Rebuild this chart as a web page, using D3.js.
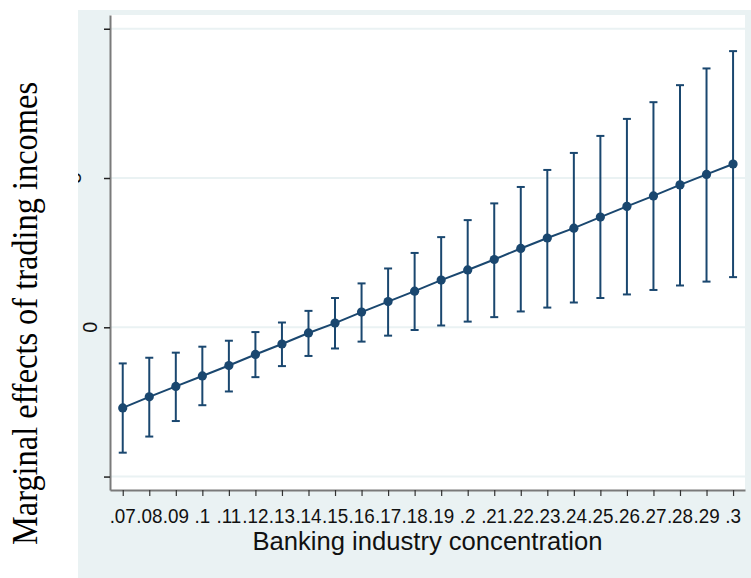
<!DOCTYPE html>
<html><head><meta charset="utf-8">
<script src="https://cdn.jsdelivr.net/npm/d3@7"></script>
<style>body{margin:0;background:#fff}svg{display:block}</style>
</head><body>
<svg id="c" width="751" height="578"></svg>
<script>
// Data
const concentration = [0.07,0.08,0.09,0.10,0.11,0.12,0.13,0.14,0.15,0.16,0.17,0.18,0.19,0.20,0.21,0.22,0.23,0.24,0.25,0.26,0.27,0.28,0.29,0.30];
const xTickLabels = [".07",".08",".09",".1",".11",".12",".13",".14",".15",".16",".17",".18",".19",".2",".21",".22",".23",".24",".25",".26",".27",".28",".29",".3"];
const margin = [-2.70,-2.33,-1.98,-1.63,-1.28,-0.91,-0.56,-0.19,0.14,0.51,0.86,1.21,1.58,1.92,2.27,2.64,2.99,3.32,3.69,4.05,4.40,4.77,5.12,5.47];
const ciLow  = [-4.20,-3.66,-3.14,-2.61,-2.15,-1.67,-1.30,-0.96,-0.71,-0.48,-0.28,-0.09,0.06,0.19,0.34,0.53,0.66,0.83,0.98,1.10,1.25,1.40,1.53,1.68];
const ciHigh = [-1.21,-1.02,-0.85,-0.65,-0.45,-0.16,0.16,0.55,0.98,1.47,1.97,2.49,3.02,3.59,4.15,4.70,5.27,5.84,6.41,6.98,7.54,8.11,8.67,9.25];
const yTicks = [-5,0,5,10];
const yTickLabels = [{v:0,t:"0"},{v:5,t:"5"}];
const titleText = "Average Marginal Effects of trading incomes with 95% CIs";
const xTitle = "Banking industry concentration";
const yTitle = "Marginal effects of trading incomes";

const navy = "#1a476f", bg = "#eaf2f3";
const svg = d3.select("#c");
const L = 110, R = 745, T = 15, B = 490;
const x = d3.scaleLinear().domain([0.0652, 0.3045]).range([L, R]);
const y = d3.scaleLinear().domain([-5.45, 10.46]).range([B, T]);

svg.append("rect").attr("x",78).attr("y",10).attr("width",751-78).attr("height",578-10).attr("fill",bg);
svg.append("rect").attr("x",L).attr("y",T).attr("width",R-L).attr("height",B-T).attr("fill","#fff");

// gridlines
svg.append("g").selectAll("line").data(yTicks).join("line")
  .attr("x1",L).attr("x2",R).attr("y1",d=>y(d)).attr("y2",d=>y(d))
  .attr("stroke",bg).attr("stroke-width",2);

// title (cut off at top, as in the reference)
svg.append("text").attr("x",29).attr("y",-8.5).attr("fill",navy)
  .attr("font-family","Liberation Sans, Arial, sans-serif").attr("font-size",40).text(titleText);

// error bars
const g = svg.append("g");
const idx = d3.range(concentration.length);
g.selectAll("line.v").data(idx).join("line").attr("class","v")
  .attr("x1",i=>x(concentration[i])).attr("x2",i=>x(concentration[i]))
  .attr("y1",i=>y(ciLow[i])).attr("y2",i=>y(ciHigh[i]))
  .attr("stroke",navy).attr("stroke-width",2);
[ciLow, ciHigh].forEach(arr=>{
  g.selectAll(null).data(idx).join("line")
    .attr("x1",i=>x(concentration[i])-4).attr("x2",i=>x(concentration[i])+4)
    .attr("y1",i=>y(arr[i])).attr("y2",i=>y(arr[i]))
    .attr("stroke",navy).attr("stroke-width",2);
});
g.append("path").datum(idx)
  .attr("d", d3.line().x(i=>x(concentration[i])).y(i=>y(margin[i])))
  .attr("fill","none").attr("stroke",navy).attr("stroke-width",2);
g.selectAll("circle").data(idx).join("circle")
  .attr("cx",i=>x(concentration[i])).attr("cy",i=>y(margin[i])).attr("r",4.6).attr("fill",navy);

// axes
const xAxis = svg.append("g").attr("transform",`translate(0,${B})`)
  .call(d3.axisBottom(x).tickValues(concentration).tickFormat(()=>"").tickSize(6).tickSizeOuter(0));
xAxis.select(".domain").attr("stroke","#7a7a7a").attr("stroke-width",2);
xAxis.selectAll(".tick line").attr("stroke","#333").attr("stroke-width",1.2);
svg.append("g").selectAll("text").data(idx).join("text")
  .attr("transform",i=>`translate(${x(concentration[i])},523) scale(0.92,1)`)
  .attr("text-anchor","middle").attr("font-family","Liberation Sans, Arial, sans-serif")
  .attr("font-size",20.5).attr("fill","#111").text(i=>xTickLabels[i]);

const yAxis = svg.append("g").attr("transform",`translate(${L},0)`)
  .call(d3.axisLeft(y).tickValues(yTicks).tickFormat(()=>"").tickSize(6).tickSizeOuter(0));
yAxis.select(".domain").attr("stroke","#7a7a7a").attr("stroke-width",2);
yAxis.selectAll(".tick line").attr("stroke","#222").attr("stroke-width",1.5);

svg.append("text").attr("transform",`translate(97,${y(0)}) rotate(-90)`)
  .attr("text-anchor","middle").attr("font-family","Liberation Sans, Arial, sans-serif")
  .attr("font-size",20).attr("fill","#111").text(yTickLabels[0].t);
svg.append("text").attr("transform",`translate(80.5,${y(5)}) rotate(-90)`)
  .attr("text-anchor","middle").attr("font-family","Liberation Sans, Arial, sans-serif")
  .attr("font-size",20).attr("fill","#111").text(yTickLabels[1].t);

// white strip on the left covering part of the labels
svg.append("rect").attr("x",0).attr("y",0).attr("width",78).attr("height",578).attr("fill","#fff");

svg.append("text").attr("x",(L+R)/2).attr("y",550).attr("text-anchor","middle")
  .attr("font-family","Liberation Sans, Arial, sans-serif").attr("font-size",25.6).attr("fill","#111").text(xTitle);

svg.append("text").attr("transform","translate(37,313.5) rotate(-90)")
  .attr("text-anchor","middle").attr("font-family","Liberation Serif, Times New Roman, serif")
  .attr("font-size",36).attr("fill","#000")
  .attr("textLength",463).attr("lengthAdjust","spacingAndGlyphs").text(yTitle);
</script>
</body></html>
